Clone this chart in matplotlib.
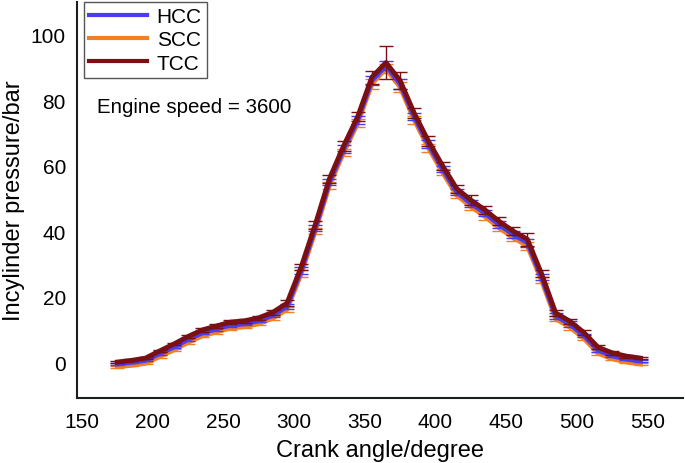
import matplotlib
matplotlib.use('Agg')
import matplotlib.pyplot as plt

plt.rcParams['font.family'] = ['Liberation Sans', 'DejaVu Sans']

# crank angle (degree)
angle = [175, 185, 195, 205, 215, 225, 235, 245, 255, 265, 275, 285, 295,
         305, 315, 325, 335, 345, 355, 365, 375, 385, 395, 405, 415, 425,
         435, 445, 455, 465, 475, 485, 495, 505, 515, 525, 535, 545]

# in-cylinder pressure (bar)
tcc = [0.0, 0.5, 1.2, 3.4, 5.5, 7.8, 9.8, 11.0, 12.2, 12.6, 13.5, 15.2, 18.0,
       29.0, 42.0, 56.0, 66.0, 75.0, 87.0, 91.5, 86.0, 76.0, 67.5, 60.0, 53.0,
       49.5, 46.5, 43.0, 40.0, 37.5, 27.0, 15.0, 12.5, 9.0, 4.5, 2.8, 1.8, 1.2]
hcc = [-0.6, -0.1, 0.5, 2.6, 4.6, 6.9, 8.9, 10.1, 11.3, 11.7, 12.6, 14.3, 17.0,
       28.0, 41.0, 55.0, 65.0, 74.0, 86.0, 90.6, 85.0, 75.0, 66.5, 59.0, 52.0,
       48.5, 45.5, 42.0, 39.0, 36.5, 26.0, 14.1, 11.6, 8.1, 3.6, 1.9, 0.9, 0.3]
scc = [-1.4, -1.0, -0.4, 1.7, 3.7, 6.0, 8.0, 9.2, 10.4, 10.8, 11.7, 13.4, 16.1,
       27.0, 40.0, 54.0, 64.0, 73.0, 85.0, 89.7, 84.0, 74.0, 65.5, 58.0, 51.0,
       47.5, 44.5, 41.0, 38.0, 35.5, 25.0, 13.2, 10.7, 7.2, 2.7, 1.0, 0.0, -0.6]

# standard deviations (bar)
tcc_err = [0.3, 0.3, 0.3, 0.4, 0.4, 0.4, 0.5, 0.5, 0.5, 0.6, 0.6, 0.8, 1.0,
           1.0, 1.2, 1.2, 1.5, 1.5, 2.0, 5.0, 2.5, 1.5, 1.5, 1.2, 1.2, 1.5,
           1.2, 1.2, 1.2, 2.0, 1.0, 1.0, 0.8, 0.8, 0.6, 0.5, 0.5, 0.4]
hcc_err = [0.3, 0.3, 0.3, 0.4, 0.4, 0.4, 0.4, 0.5, 0.5, 0.5, 0.5, 0.6, 0.8,
           1.0, 1.0, 1.0, 1.2, 1.2, 1.5, 1.5, 1.5, 1.2, 1.2, 1.0, 1.0, 1.0,
           1.0, 1.0, 1.0, 1.2, 1.0, 0.8, 0.8, 0.6, 0.5, 0.5, 0.4, 0.4]
scc_err = hcc_err

colors = {'HCC': '#4a3cf2', 'SCC': '#f27f22', 'TCC': '#7a1014'}

fig = plt.figure(figsize=(6.85, 4.64), dpi=100)
ax = fig.add_axes([0.1124, 0.140, 0.8846, 0.8535])

series = [('SCC', scc, scc_err, 2), ('HCC', hcc, hcc_err, 3), ('TCC', tcc, tcc_err, 4)]
for name, vals, err, z in series:
    ax.errorbar(angle, vals, yerr=err, color=colors[name], lw=3.5,
                elinewidth=1.0, capsize=5, capthick=1.0, zorder=z, label=name)

ax.set_xlim(146.5, 575)
ax.set_ylim(-11, 110)
ax.set_xticks([150, 200, 250, 300, 350, 400, 450, 500, 550])
ax.set_yticks([0, 20, 40, 60, 80, 100])
ax.tick_params(axis='both', length=0, labelsize=15)
ax.tick_params(axis='x', pad=10)
ax.tick_params(axis='y', pad=8)
for s in ['top', 'right']:
    ax.spines[s].set_visible(False)
for s in ['left', 'bottom']:
    ax.spines[s].set_linewidth(1.5)
    ax.spines[s].set_color('#1a1f1f')

ax.set_xlabel('Crank angle/degree', fontsize=17, labelpad=6)
ax.set_ylabel('Incylinder pressure/bar', fontsize=17, labelpad=4)

ax.text(0.033, 0.735, 'Engine speed = 3600', transform=ax.transAxes,
        fontsize=14.8, va='center', ha='left')

leg_h = [plt.Line2D([], [], color=colors[n], lw=3) for n in ['HCC', 'SCC', 'TCC']]
leg = ax.legend(leg_h, ['HCC', 'SCC', 'TCC'], loc='upper left',
                bbox_to_anchor=(0.011, 1.0), borderaxespad=0, fontsize=15,
                fancybox=False, framealpha=1, edgecolor='#555555',
                handlelength=2.8, borderpad=0.25, labelspacing=0.2,
                handletextpad=0.45)
leg.get_frame().set_linewidth(1.0)

fig.savefig('out.png', dpi=100)
